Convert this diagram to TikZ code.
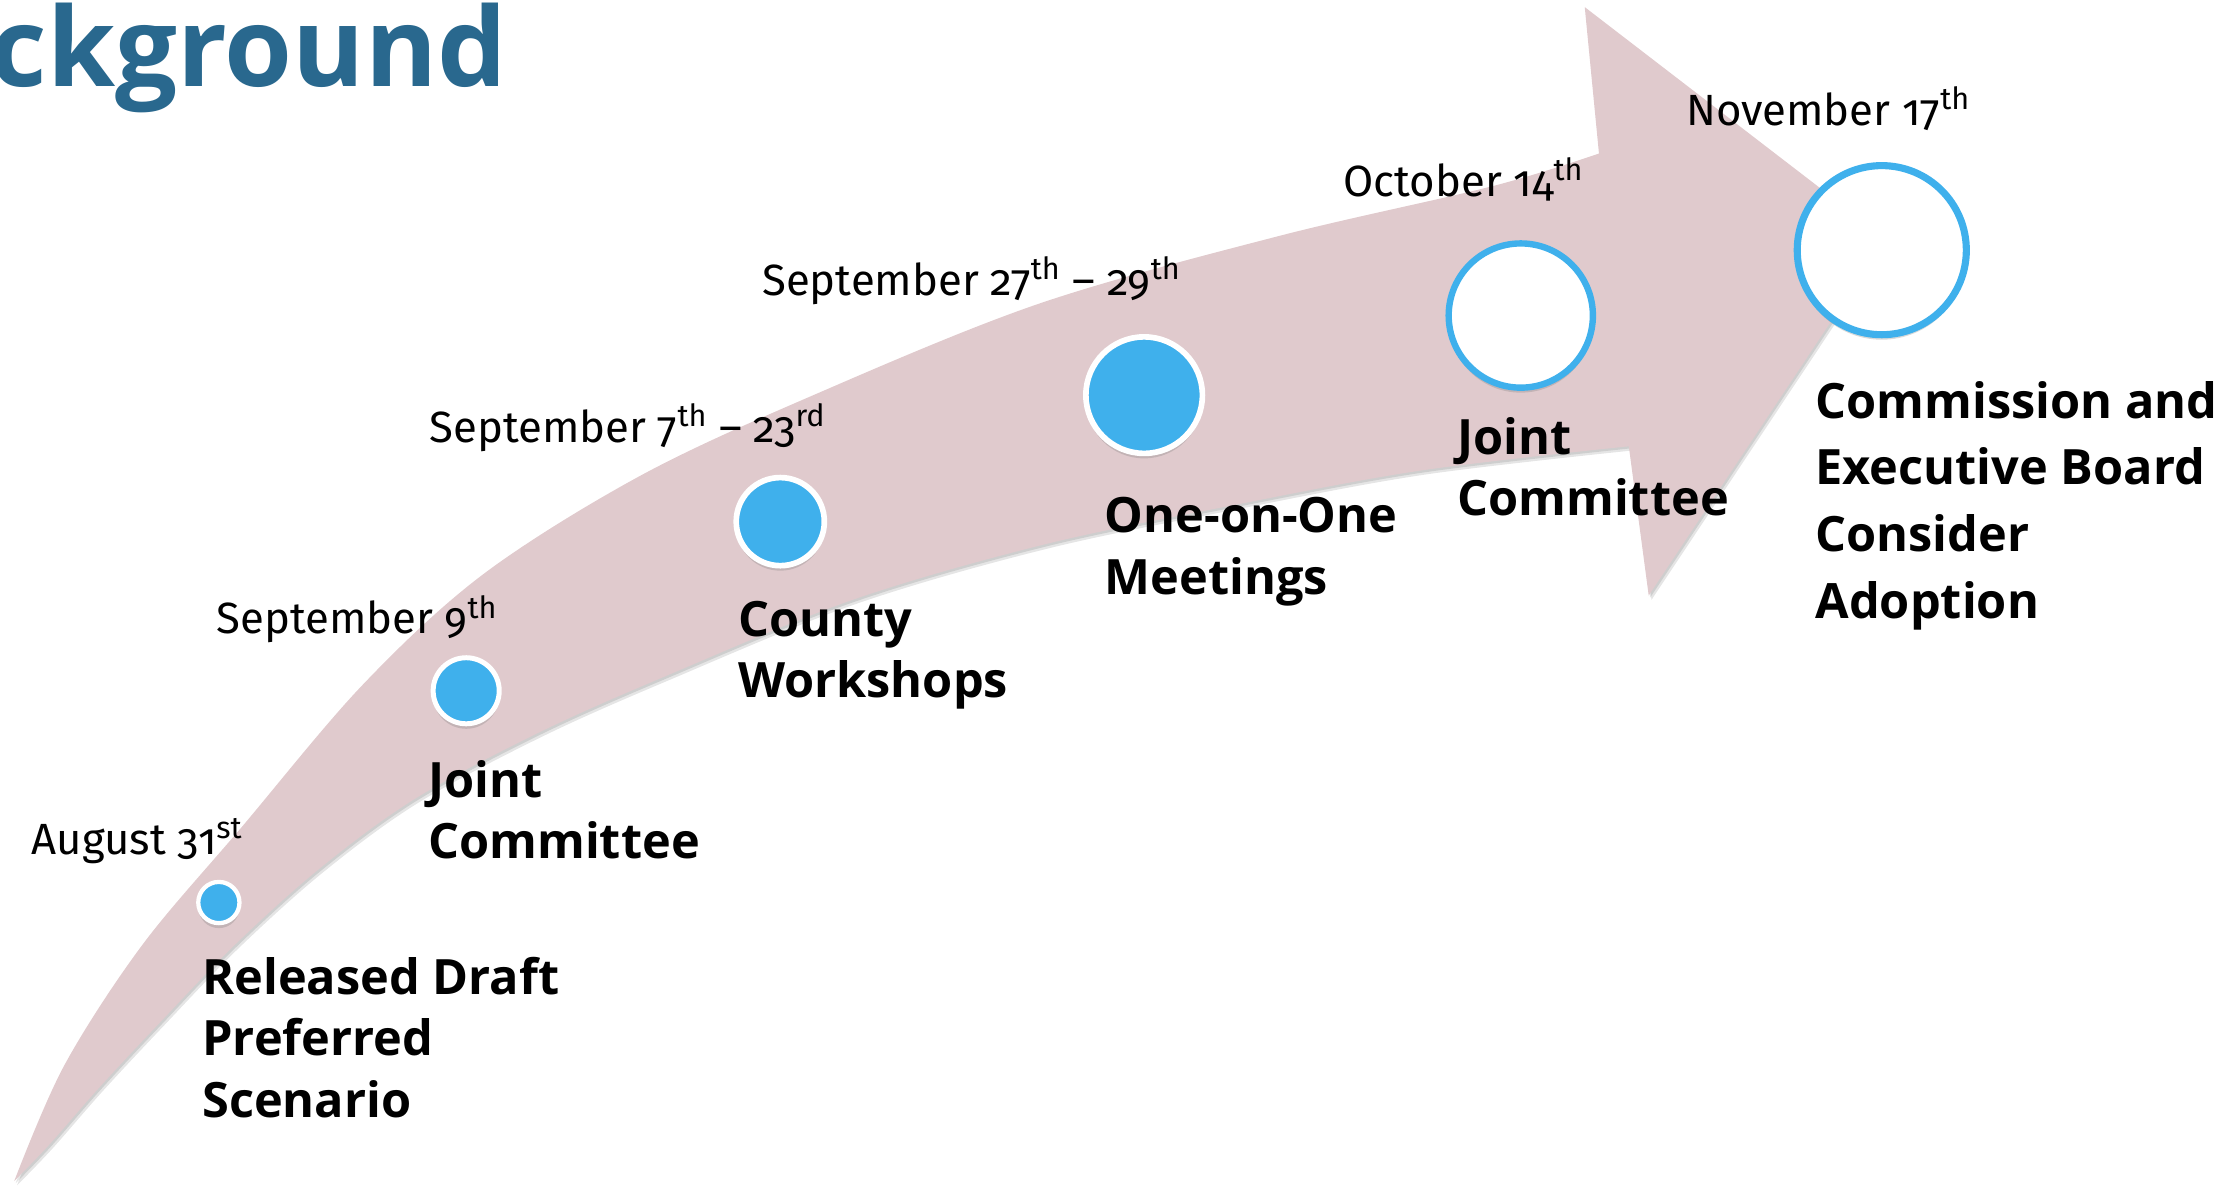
\documentclass[tikz,border=0pt]{standalone}
\usepackage{fontspec}
\setmainfont{Fira Sans}[Numbers=OldStyle]
\newfontfamily\labelfont{Open Sans}
\usetikzlibrary{shadows}
\definecolor{bandpink}{RGB}{224,202,205}
\definecolor{dotblue}{RGB}{63,176,236}
\definecolor{titleblue}{RGB}{41,104,142}
\newcommand{\bandshape}{plot[smooth, tension=0.55] coordinates {(10,831) (45,750) (100,665) (170,582) (255,482) (340,404) (450,335) (570,279) (730,214) (900,166) (1050,131) (1125,108)}
	-- (1115,5) -- (1327,168) -- (1160,419) -- (1146,314)
	-- plot[smooth, tension=0.55] coordinates {(1146,314) (1000,331) (870,355) (735,383) (600,422) (470,475) (380,515) (292,562) (225,611) (165,665) (112,720) (70,765) (35,805) (10,831)} -- cycle}

\begin{document}
\begin{tikzpicture}[x=0.02cm, y=-0.02cm, >=latex,
	bandshadow/.style={fill=black, opacity=0.10},
	dot/.style={circle, fill=dotblue, draw=white, inner sep=0pt,
		drop shadow={shadow xshift=0pt, shadow yshift=-2pt, opacity=0.3}},
	ring/.style={circle, fill=white, draw=dotblue, inner sep=0pt,
		drop shadow={shadow xshift=0pt, shadow yshift=-2pt, opacity=0.3}},
	date/.style={anchor=base west, inner sep=0pt, font=\fontsize{17.5}{21}\selectfont},
	lbl/.style={anchor=base west, inner sep=0pt, align=left,
		font=\labelfont\bfseries\fontsize{19.5}{24.5}\selectfont}]
	%%%	Help Lines
%	\draw [thin, help lines] (0,0) grid[step=100] (1569,836.6);
	\useasboundingbox (0,0) rectangle (1569,836.6);
	\clip (0,0) rectangle (1569,836.6);
	%%%	Titolo
	\node[anchor=base east, inner sep=0pt, text=titleblue,
		font=\labelfont\bfseries\fontsize{44}{50}\selectfont] (title) at (357,61) {Background};
	%%%	Freccia
	\fill[bandshadow, shift={(2,3)}] \bandshape;
	\fill[bandshadow, shift={(1,1.5)}] \bandshape;
	\fill[bandpink] \bandshape;
	%%%	Tappe
	\node[dot, line width=0.06cm, minimum size=0.58cm] (aug) at (154,635) {};
	\node[dot, line width=0.07cm, minimum size=0.93cm] (sepa) at (328,486) {};
	\node[dot, line width=0.08cm, minimum size=1.24cm] (sepb) at (549,367) {};
	\node[dot, line width=0.08cm, minimum size=1.64cm] (sepc) at (805,278) {};
	\node[ring, line width=0.09cm, minimum size=2.03cm] (oct) at (1070,222) {};
	\node[ring, line width=0.10cm, minimum size=2.38cm] (nov) at (1324,176) {};
	%%%	Date
	\node[date] (daug) at (22,601) {August 31\textsuperscript{st}};
	\node[date] (dsepa) at (152,446) {September 9\textsuperscript{th}};
	\node[date] (dsepb) at (302,311) {September 7\textsuperscript{th} -- 23\textsuperscript{rd}};
	\node[date] (dsepc) at (536,208) {September 27\textsuperscript{th} -- 29\textsuperscript{th}};
	\node[date] (doct) at (945,138) {October 14\textsuperscript{th}};
	\node[date] (dnov) at (1186,88) {November 17\textsuperscript{th}};
	%%%	Testi (base = ultima riga)
	\node[lbl] (laug) at (142,786) {Released Draft\\Preferred\\Scenario};
	\node[lbl] (lsepa) at (301,604) {Joint\\Committee};
	\node[lbl] (lsepb) at (519,491) {County\\Workshops};
	\node[lbl] (lsepc) at (777,418) {One-on-One\\Meetings};
	\node[lbl] (loct) at (1025,363) {Joint\\Committee};
	\node[lbl, font=\labelfont\bfseries\fontsize{19.5}{26.7}\selectfont] (lnov) at (1277,435)
		{Commission and\\Executive Board\\Consider\\Adoption};
\end{tikzpicture}
\end{document}
